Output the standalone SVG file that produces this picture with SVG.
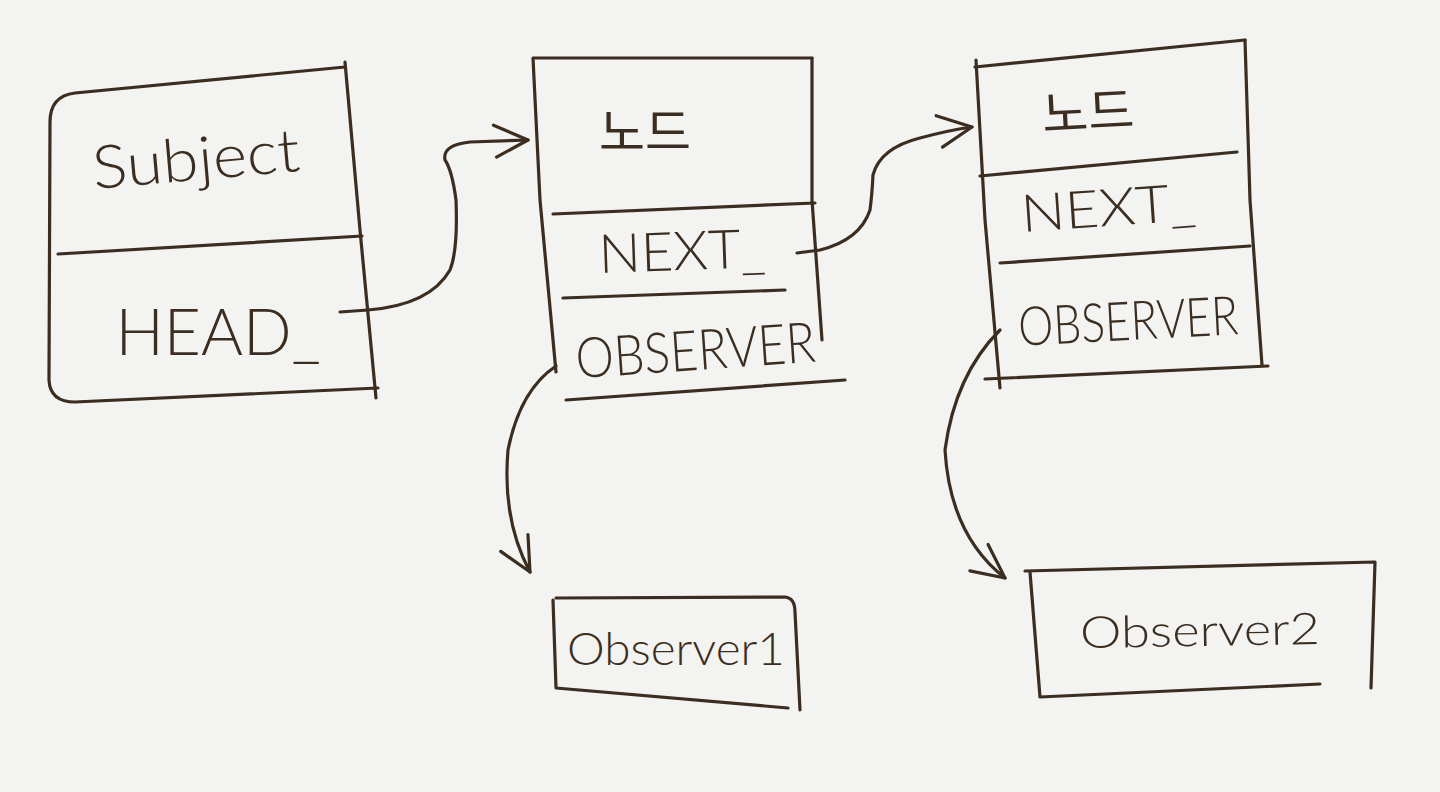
<svg xmlns="http://www.w3.org/2000/svg" width="1440" height="792" viewBox="0 0 1440 792">
<defs>
<style>
.ln{fill:none;stroke:#3b2d20;stroke-width:3.2;stroke-linecap:round;stroke-linejoin:round}
.t{fill:#3b2d20;font-family:"Lato","Liberation Sans","DejaVu Sans",sans-serif;font-weight:300;text-anchor:middle}
.k{fill:#3b2d20;font-family:"Noto Sans CJK KR","Noto Sans",sans-serif;text-anchor:middle;font-weight:400}
</style>
<marker id="ah" markerUnits="userSpaceOnUse" markerWidth="50" markerHeight="50" refX="40" refY="20" orient="auto" viewBox="0 0 50 40">
<path d="M6,4 L40,20 L8,36" fill="none" stroke="#3b2d20" stroke-width="3.2" stroke-linecap="round" stroke-linejoin="round"/>
</marker>
</defs>
<rect width="1440" height="792" fill="#f3f3f1"/>

<g id="subject">
<path class="ln" d="M345,67 L75,93 Q50,96 50,122 L49,380 Q50,402 75,402 L378,388"/>
<path class="ln" d="M345,62 L360,230 L376,398"/>
<path class="ln" d="M58,254 L362,236"/>
<text class="t" x="196" y="180" font-size="60" textLength="208" lengthAdjust="spacingAndGlyphs" transform="rotate(-5 196 160)">Subject</text>
<text class="t" x="218" y="355" font-size="66" textLength="205" lengthAdjust="spacingAndGlyphs">HEAD_</text>
</g>

<g id="node1">
<path class="ln" d="M534,58 L812,58"/>
<path class="ln" d="M533,58 L540,200 L556,372"/>
<path class="ln" d="M812,58 L812,200 L822,340"/>
<path class="ln" d="M553,214 L815,203"/>
<path class="ln" d="M563,298 L785,290"/>
<path class="ln" d="M566,400 L845,380"/>
<text class="k" x="645" y="150" font-size="50">노드</text>
<text class="t" x="682" y="270" font-size="54" textLength="167" lengthAdjust="spacingAndGlyphs" transform="rotate(-2 682 250)">NEXT_</text>
<text class="t" x="695" y="370" font-size="56" textLength="240" lengthAdjust="spacingAndGlyphs" transform="rotate(-4 695 345)">OBSERVER</text>
</g>

<g id="node2">
<path class="ln" d="M975,67 L1245,40"/>
<path class="ln" d="M976,60 L985,220 L1000,388"/>
<path class="ln" d="M1245,40 L1250,200 L1262,365"/>
<path class="ln" d="M980,176 L1237,152"/>
<path class="ln" d="M1000,263 L1250,246"/>
<path class="ln" d="M985,379 L1268,366"/>
<text class="k" x="1088" y="130" font-size="50" transform="rotate(-3 1088 110)">노드</text>
<text class="t" x="1108" y="226" font-size="52" textLength="175" lengthAdjust="spacingAndGlyphs" transform="rotate(-4 1108 205)">NEXT_</text>
<text class="t" x="1128" y="340" font-size="54" textLength="220" lengthAdjust="spacingAndGlyphs" transform="rotate(-3 1128 318)">OBSERVER</text>
</g>

<g id="observer1">
<path class="ln" d="M556,598 L785,597 Q795,598 795,612 L800,710"/>
<path class="ln" d="M553,600 L556,688 L788,708"/>
<text class="t" x="676" y="665" font-size="46" textLength="218" lengthAdjust="spacingAndGlyphs">Observer1</text>
</g>

<g id="observer2">
<path class="ln" d="M1025,571 L1375,562 L1371,688"/>
<path class="ln" d="M1030,572 L1040,697 L1320,684"/>
<text class="t" x="1200" y="646" font-size="44" textLength="240" lengthAdjust="spacingAndGlyphs" transform="rotate(-1 1200 630)">Observer2</text>
</g>

<g id="connectors">
<path class="ln" marker-end="url(#ah)" d="M340,312 L368,310 Q430,305 450,270 Q458,250 456,200 Q452,170 445,160 Q442,145 470,142 L528,140"/>
<path class="ln" marker-end="url(#ah)" d="M797,253 L820,250 Q860,240 870,210 Q872,195 873,175 Q880,148 920,138 Q950,130 972,127"/>
<path class="ln" marker-end="url(#ah)" d="M556,366 Q520,390 508,450 Q502,520 530,572"/>
<path class="ln" marker-end="url(#ah)" d="M1000,330 Q955,375 945,450 Q950,535 1005,578"/>
</g>
</svg>
